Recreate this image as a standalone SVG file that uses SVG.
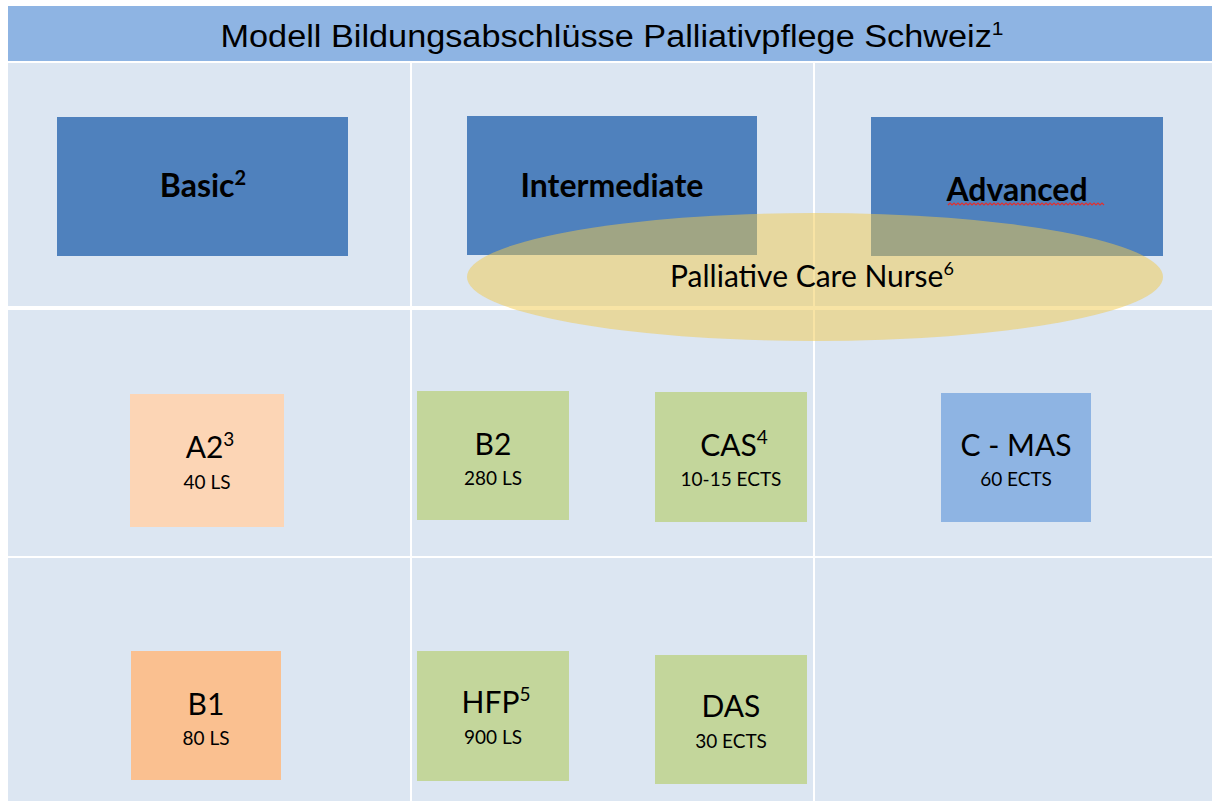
<svg xmlns="http://www.w3.org/2000/svg" width="1212" height="801" viewBox="0 0 1212 801">
<style>
.cell{fill:#DCE6F2}
.lab{font-family:Lato,"Noto Sans",sans-serif;fill:#000;text-anchor:middle}
.big{font-size:30px}
.small{font-size:19px}
.head{font-family:Lato,"Noto Sans",sans-serif;font-weight:bold;font-size:32px;text-anchor:middle}
.green{fill:#C3D69B}
.dark{fill:#4F81BD}
</style>
<rect width="1212" height="801" fill="#FFFFFF"/>
<g id="table">
<rect x="8" y="6" width="1204" height="55" fill="#8EB4E3"/>
<text x="612" y="47" font-family="Liberation Sans, Arial, sans-serif" font-size="31" text-anchor="middle" textLength="783" lengthAdjust="spacingAndGlyphs">Modell Bildungsabschlüsse Palliativpflege Schweiz<tspan font-size="19" dy="-12">1</tspan></text>
<rect class="cell" x="8" y="63" width="402" height="243"/>
<rect class="cell" x="412" y="63" width="401" height="243"/>
<rect class="cell" x="815" y="63" width="397" height="243"/>
<rect class="cell" x="8" y="310" width="402" height="246"/>
<rect class="cell" x="412" y="310" width="401" height="246"/>
<rect class="cell" x="815" y="310" width="397" height="246"/>
<rect class="cell" x="8" y="558" width="402" height="243"/>
<rect class="cell" x="412" y="558" width="401" height="243"/>
<rect class="cell" x="815" y="558" width="397" height="243"/>
</g>
<g id="connectors"></g>
<g id="basic">
<rect class="dark" x="57" y="117" width="291" height="139"/>
<text class="head" x="203" y="197">Basic<tspan font-size="20" dy="-12">2</tspan></text>
</g>
<g id="intermediate">
<rect class="dark" x="467" y="116" width="290" height="139"/>
<text class="head" x="612" y="197">Intermediate</text>
</g>
<g id="advanced">
<rect class="dark" x="871" y="117" width="292" height="139"/>
<text class="head" x="1017" y="201">Advanced</text>
<path d="M948 205 l2 -2 l2 2 l2 -2 l2 2 l2 -2 l2 2 l2 -2 l2 2 l2 -2 l2 2 l2 -2 l2 2 l2 -2 l2 2 l2 -2 l2 2 l2 -2 l2 2 l2 -2 l2 2 l2 -2 l2 2 l2 -2 l2 2 l2 -2 l2 2 l2 -2 l2 2 l2 -2 l2 2 l2 -2 l2 2 l2 -2 l2 2 l2 -2 l2 2 l2 -2 l2 2 l2 -2 l2 2 l2 -2 l2 2 l2 -2 l2 2 l2 -2 l2 2 l2 -2 l2 2 l2 -2 l2 2 l2 -2 l2 2 l2 -2 l2 2 l2 -2 l2 2 l2 -2 l2 2 l2 -2 l2 2 l2 -2 l2 2 l2 -2 l2 2 l2 -2 l2 2 l2 -2 l2 2 l2 -2 l2 2 l2 -2 l2 2 l2 -2 l2 2 l2 -2 l2 2 l2 -2 l2 2" fill="none" stroke="#E03030" stroke-width="1.2"/>
</g>
<g id="pcn">
<ellipse cx="815" cy="277" rx="348" ry="64" fill="#F2C94C" fill-opacity="0.5"/>
<text class="lab" x="812" y="287" font-size="30">Palliative Care Nurse<tspan font-size="18" dy="-12">6</tspan></text>
</g>
<g id="a2">
<rect x="130" y="394" width="154" height="133" fill="#FCD5B5"/>
<text class="lab big" x="210" y="458">A2<tspan font-size="19" dy="-12">3</tspan></text>
<text class="lab small" x="207" y="489">40 LS</text>
</g>
<g id="b2">
<rect class="green" x="417" y="391" width="152" height="129"/>
<text class="lab big" x="493" y="455">B2</text>
<text class="lab small" x="493" y="485">280 LS</text>
</g>
<g id="cas">
<rect class="green" x="655" y="392" width="152" height="130"/>
<text class="lab big" x="734" y="456">CAS<tspan font-size="19" dy="-12">4</tspan></text>
<text class="lab small" x="731" y="486">10-15 ECTS</text>
</g>
<g id="cmas">
<rect x="941" y="393" width="150" height="129" fill="#8EB4E3"/>
<text class="lab big" x="1016" y="456">C - MAS</text>
<text class="lab small" x="1016" y="486">60 ECTS</text>
</g>
<g id="b1">
<rect x="131" y="651" width="150" height="129" fill="#FAC090"/>
<text class="lab big" x="206" y="715">B1</text>
<text class="lab small" x="206" y="745">80 LS</text>
</g>
<g id="hfp">
<rect class="green" x="417" y="651" width="152" height="130"/>
<text class="lab big" x="496" y="713">HFP<tspan font-size="19" dy="-12">5</tspan></text>
<text class="lab small" x="493" y="744">900 LS</text>
</g>
<g id="das">
<rect class="green" x="655" y="655" width="152" height="129"/>
<text class="lab big" x="731" y="717">DAS</text>
<text class="lab small" x="731" y="748">30 ECTS</text>
</g>
</svg>
